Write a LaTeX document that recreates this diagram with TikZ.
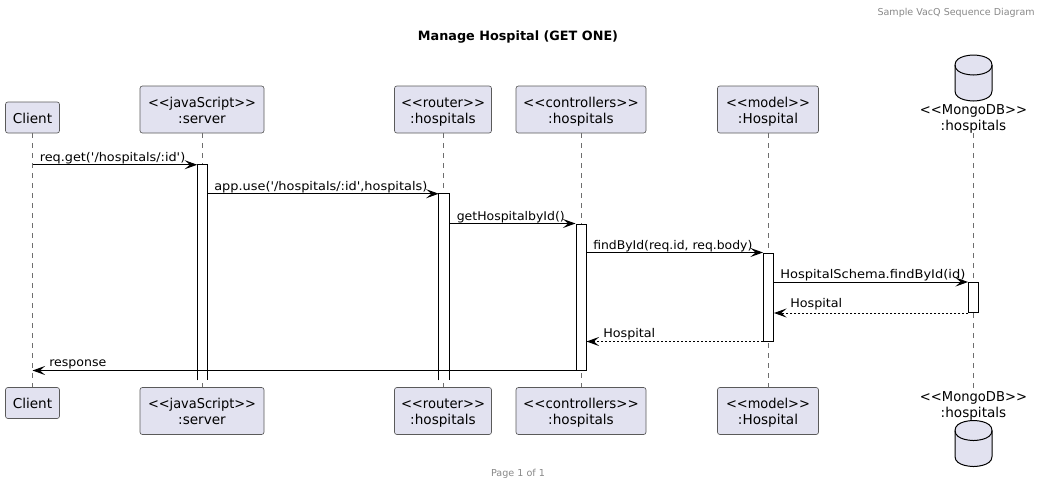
\documentclass[tikz,border=0pt]{standalone}
\usepackage{fontspec}
\usepackage{graphicx}
\setmainfont[Ligatures=TeXOff]{DejaVu Sans}
\usetikzlibrary{arrows.meta}
\definecolor{partfill}{HTML}{E2E2F0}
\definecolor{linec}{HTML}{5A5A5A}
\definecolor{lifec}{HTML}{6E6E6E}
\definecolor{greyt}{HTML}{888888}
\newcommand{\boxfont}{\fontsize{10.2pt}{12pt}\selectfont}
\newcommand{\msgfont}{\fontsize{9pt}{11pt}\selectfont}
\newcommand{\fitw}[2]{\resizebox{#1}{\height}{#2}}
\newcommand{\twolines}[1]{\raisebox{-1.8pt}[\height][\depth]{\begin{tabular}{@{}c@{}}#1\end{tabular}}}
\tikzset{
  x=0.75pt,y=-0.75pt,
  part/.style={draw=linec,line width=0.5pt,fill=partfill,rounded corners=1.8pt,inner sep=0pt,font=\boxfont,text=black},
  dblabel/.style={inner sep=0pt,font=\boxfont,text=black},
  life/.style={draw=lifec,line width=0.5pt,dash pattern=on 3.75pt off 3.75pt},
  actbg/.style={fill=white,inner sep=0pt,minimum width=7.5pt},
  actbox/.style={draw=black,line width=0.75pt,fill=white,inner sep=0pt,minimum width=7.5pt},
  actline/.style={draw=black,line width=0.75pt},
  msg/.style={draw=black,line width=0.75pt,-{Stealth[length=9.5pt,width=6.8pt,inset=4pt]}},
  ret/.style={msg,dash pattern=on 1.5pt off 1.5pt},
  lbl/.style={font=\msgfont,text=black,inner sep=0pt,anchor=base west},
  cyl/.style={draw=black,line width=0.75pt,fill=partfill}
}
\newcommand{\cylinderat}[2]{%
  \begin{scope}[shift={(#1,#2)}]
    \path[cyl] (-18.5,10) .. controls (-18.5,0) and (0,0) .. (0,0) .. controls (0,0) and (18.5,0) .. (18.5,10)
      -- (18.5,36) .. controls (18.5,46) and (0,46) .. (0,46) .. controls (0,46) and (-18.5,46) .. (-18.5,36) -- cycle;
    \draw[draw=black,line width=0.75pt] (-18.5,10) .. controls (-18.5,20) and (0,20) .. (0,20) .. controls (0,20) and (18.5,20) .. (18.5,10);
  \end{scope}}
\newcommand{\partbox}[6]{% name, cx, cy, w, h, text
  \node[part,minimum width=#4*0.75pt,minimum height=#5*0.75pt] (#1) at (#2,#3) {\twolines{#6}};}
\begin{document}
\begin{tikzpicture}
\useasboundingbox (0,0) rectangle (1042,486);
% header / title / footer
\node[font=\fontsize{7.15pt}{9pt}\selectfont,text=greyt,inner sep=0pt,anchor=base east] (hdr) at (1035,15) {Sample VacQ Sequence Diagram};
\node[font=\fontsize{9.6pt}{11pt}\selectfont\bfseries,text=black,inner sep=0pt] (ttl) at (518,37) {Manage Hospital (GET ONE)};
\node[font=\fontsize{7.2pt}{9pt}\selectfont,text=greyt,inner sep=0pt] (ftr) at (518,474) {Page 1 of 1};
% participants
\partbox{c1}{32.5}{117.5}{54}{31}{Client}
\partbox{c2}{32.5}{403}{54}{31}{Client}
\partbox{s1}{202}{109.5}{124}{47}{\fitw{81pt}{<<javaScript>>}\\:server}
\partbox{s2}{202}{411}{124}{47}{\fitw{81pt}{<<javaScript>>}\\:server}
\partbox{r1}{443}{109.5}{97}{47}{\fitw{63pt}{<<router>>}\\:hospitals}
\partbox{r2}{443}{411}{97}{47}{\fitw{63pt}{<<router>>}\\:hospitals}
\partbox{k1}{581}{109.5}{130}{47}{\fitw{86.8pt}{<<controllers>>}\\:hospitals}
\partbox{k2}{581}{411}{130}{47}{\fitw{86.8pt}{<<controllers>>}\\:hospitals}
\partbox{m1}{768}{109.5}{101}{47}{\fitw{63pt}{<<model>>}\\:Hospital}
\partbox{m2}{768}{411}{101}{47}{\fitw{63pt}{<<model>>}\\:Hospital}
% database
\cylinderat{973.5}{55}
\cylinderat{973.5}{420.5}
\coordinate (d1) at (973.5,133);
\coordinate (d2) at (973.5,388);
% lifelines
\draw[life] (c1.south) -- (c2.north);
\draw[life] (s1.south) -- (s2.north);
\draw[life] (r1.south) -- (r2.north);
\draw[life] (k1.south) -- (k2.north);
\draw[life] (m1.south) -- (m2.north);
\draw[life] (d1) -- (d2);
\node[dblabel] (dl1) at (973.5,117.2) {\twolines{\fitw{80.3pt}{<<MongoDB>>}\\:hospitals}};
\node[dblabel] (dl2) at (973.5,403.4) {\twolines{\fitw{80.3pt}{<<MongoDB>>}\\:hospitals}};
% activations
\node[actbg,minimum height=161.25pt] (as) at (202.5,272.5) {};
\draw[actline] (as.south west) -- (as.north west) -- (as.north east) -- (as.south east);
\node[actbg,minimum height=139.5pt] (ar) at (444,287) {};
\draw[actline] (ar.south west) -- (ar.north west) -- (ar.north east) -- (ar.south east);
\node[actbox,minimum height=109.5pt] (ak) at (581,297) {};
\node[actbox,minimum height=66pt] (am) at (768.5,297) {};
\node[actbox,minimum height=22.5pt] (ad) at (973.5,297.5) {};
% anchors on client lifeline
\coordinate (cf) at (c1.south |- as.north);
\coordinate (ct) at (c1.south |- ak.south);
% messages
\draw[msg] (cf) -- (as.north west);
\node[lbl] (t1) at (39.5,161) {\fitw{109.1pt}{req.get('/hospitals/:id')}};
\draw[msg] (as.east |- ar.north) -- (ar.north west);
\node[lbl] (t2) at (214,190) {\fitw{159.8pt}{app.use('/hospitals/:id',hospitals)}};
\draw[msg] (ar.east |- ak.north) -- (ak.north west);
\node[lbl] (t3) at (456.5,220.5) {\fitw{81pt}{getHospitalbyId()}};
\draw[msg] (ak.east |- am.north) -- (am.north west);
\node[lbl] (t4) at (593,249) {\fitw{119.3pt}{findById(req.id, req.body)}};
\draw[msg] (am.east |- ad.north) -- (ad.north west);
\node[lbl] (t5) at (780,278) {\fitw{138.8pt}{HospitalSchema.findById(id)}};
\draw[ret] (ad.south west) -- (am.east |- ad.south);
\node[lbl] (t6) at (790,307) {\fitw{39pt}{Hospital}};
\draw[ret] (am.south west) -- (ak.east |- am.south);
\node[lbl] (t7) at (603,337) {\fitw{39pt}{Hospital}};
\draw[msg] (ak.south west) -- (ct);
\node[lbl] (t8) at (49,366) {\fitw{42.8pt}{response}};
\end{tikzpicture}
\end{document}
